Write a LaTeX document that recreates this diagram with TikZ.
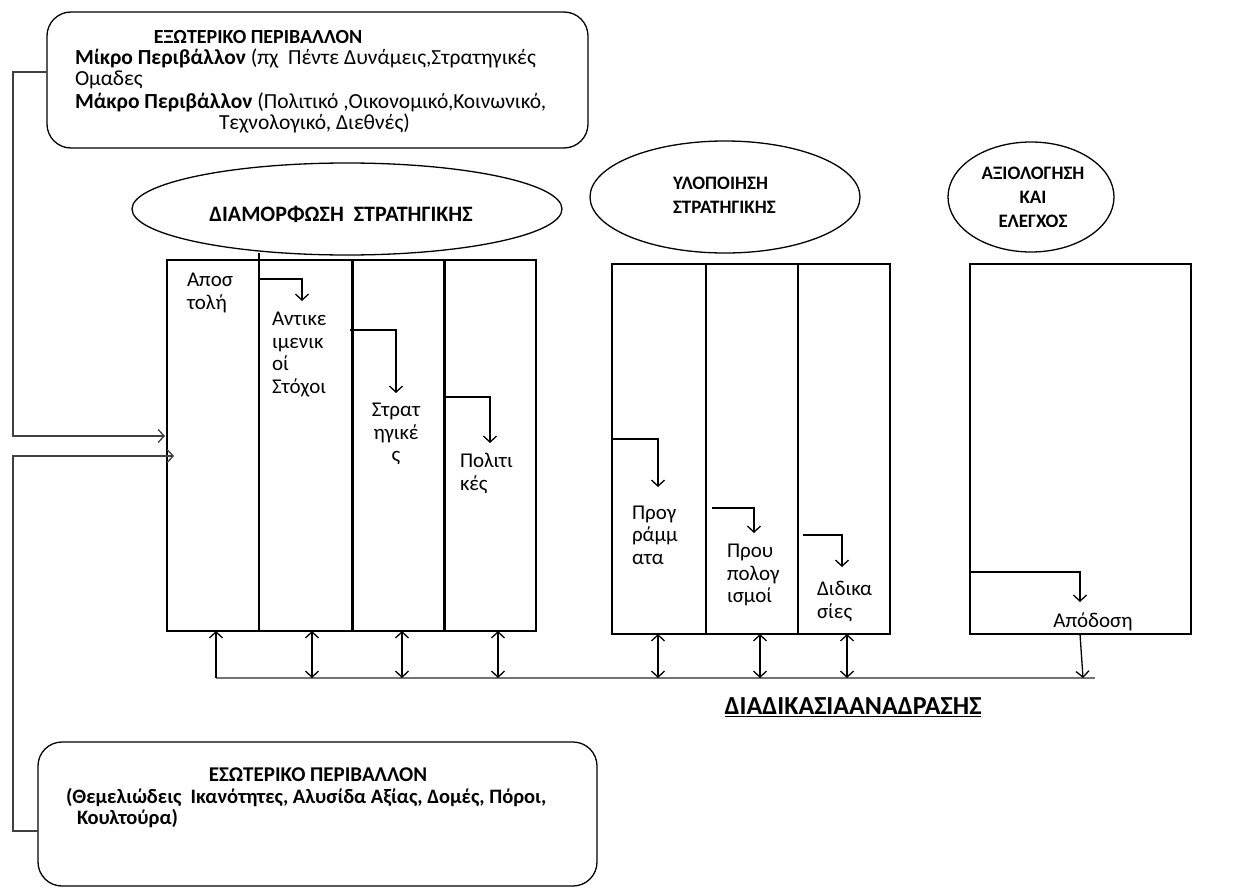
\documentclass[tikz,border=0pt]{standalone}
\usepackage{fontspec}
\setmainfont{Carlito}
\usetikzlibrary{shapes.geometric,arrows.meta}
\begin{document}
\begin{tikzpicture}[x=1pt,y=-1pt,
  every node/.style={inner sep=0pt,outer sep=0pt},
  ln/.style={line width=1.3pt,draw=black},
  thickdiv/.style={line width=3pt,draw=black},
  arr/.style={ln,-{Straight Barb[length=6pt,width=13pt,line width=1.3pt]}},
  darr/.style={ln,{Straight Barb[length=6pt,width=13pt,line width=1.3pt]}-{Straight Barb[length=6pt,width=13pt,line width=1.3pt]}},
  conn/.style={line width=1.8pt,draw=black!75,-{Straight Barb[length=6pt,width=13pt,line width=1.3pt]}},
  fbline/.style={line width=2pt,draw=black!55},
  rbox/.style={draw,line width=1.3pt,rounded corners=24pt,rectangle},
  ell/.style={draw,line width=1.3pt,ellipse},
  colbox/.style={draw,line width=1.3pt,rectangle},
  body/.style={font=\fontsize{21}{22.5}\selectfont,align=left,anchor=west},
  boxtxt/.style={font=\fontsize{21.5}{22}\selectfont,anchor=west},
  ttl/.style={font=\bfseries\fontsize{19}{24}\selectfont},
]
\useasboundingbox (0,0) rectangle (1236,888);
\fill[white] (0,0) rectangle (1236,888);

% external environment box
\node[rbox,minimum width=541pt,minimum height=136pt] (ext) at (317.5,80) {};
\node[ttl,font=\bfseries\fontsize{20}{24}\selectfont] (extT) at (258,37) {ΕΞΩΤΕΡΙΚΟ ΠΕΡΙΒΑΛΛΟΝ};
\node[boxtxt] (extL1) at (75,58) {\textbf{Μίκρο Περιβάλλον} (πχ\ \ Πέντε Δυνάμεις,Στρατηγικές};
\node[boxtxt] (extL2) at (75,80) {Ομαδες};
\node[boxtxt] (extL3) at (75,102) {\textbf{Μάκρο Περιβάλλον} (Πολιτικό ,Οικονομικό,Κοινωνικό,};
\node[boxtxt] (extL4) at (219,123) {Τεχνολογικό, Διεθνές)};

% internal environment box
\node[rbox,minimum width=559pt,minimum height=144pt] (int) at (317.5,814) {};
\node[ttl,font=\bfseries\fontsize{21}{24}\selectfont] (intT) at (318,775) {ΕΣΩΤΕΡΙΚΟ ΠΕΡΙΒΑΛΛΟΝ};
\node[boxtxt,font=\bfseries\fontsize{20.5}{22}\selectfont] (intL1) at (66,797) {(Θεμελιώδεις\ \ Ικανότητες, Αλυσίδα Αξίας, Δομές, Πόροι,};
\node[boxtxt,font=\bfseries\fontsize{20.5}{22}\selectfont] (intL2) at (77,818) {Κουλτούρα)};

% ellipses
\node[ell,minimum width=430pt,minimum height=92pt] (e1) at (347,209) {};
\node[ttl,font=\bfseries\fontsize{22}{24}\selectfont] (e1T) at (341,214) {ΔΙΑΜΟΡΦΩΣΗ\ \ ΣΤΡΑΤΗΓΙΚΗΣ};
\node[ell,minimum width=270pt,minimum height=112pt] (e2) at (725,197) {};
\node[ttl,align=left,anchor=west] (e2T) at (673,195) {ΥΛΟΠΟΙΗΣΗ\\ΣΤΡΑΤΗΓΙΚΗΣ};
\node[ell,minimum width=166pt,minimum height=110pt] (e3) at (1031,197) {};
\node[ttl,align=center] (e3T) at (1033,197) {ΑΞΙΟΛΟΓΗΣΗ\\ΚΑΙ\\ΕΛΕΓΧΟΣ};

% column boxes
\node[colbox,minimum width=369pt,minimum height=371pt] (g1) at (351.5,445.5) {};
\draw[ln] (259,253) -- (259,631);
\draw[thickdiv] (352,260) -- (352,631);
\draw[thickdiv] (444,260) -- (444,631);
\node[colbox,minimum width=278pt,minimum height=370pt] (g2) at (751,449) {};
\draw[ln] (706,264) -- (706,634);
\draw[ln] (798,264) -- (798,634);
\node[colbox,minimum width=221pt,minimum height=370pt] (g3) at (1080.5,449) {};

% column labels
\node[body] (t1) at (187,293) {Αποσ\\τολή};
\node[body] (t2) at (272,354.5) {Αντικε\\ιμενικ\\οί\\Στόχοι};
\node[body,align=center,anchor=center] (t3) at (396,434) {Στρατ\\ηγικέ\\ς};
\node[body] (t4) at (460,473.5) {Πολιτι\\κές};
\node[body] (t5) at (632,535) {Προγ\\ράμμ\\ατα};
\node[body] (t6) at (727,575) {Πρου\\πολογ\\ισμοί};
\node[body] (t7) at (817,601.5) {Διδικα\\σίες};
\node[body,anchor=center] (t8) at (1093,622) {Απόδοση};

% inner step arrows
\coordinate (s1) at (260,279);  \coordinate (s1e) at (302,301);
\coordinate (s2) at (350,330);  \coordinate (s2e) at (396,393);
\coordinate (s3) at (445,397);  \coordinate (s3e) at (490,443);
\coordinate (s4) at (612,439);  \coordinate (s4e) at (658,487);
\coordinate (s5) at (712,508);  \coordinate (s5e) at (754,533);
\coordinate (s6) at (803,535);  \coordinate (s6e) at (842,567);
\coordinate (s7) at (970,572);  \coordinate (s7e) at (1080,602);
\foreach \a in {1,...,7}{\draw[arr] (s\a) -| (s\a e);}

% feedback line
\coordinate (fbL) at (216,678);
\coordinate (fbR) at (1095,678);
\draw[fbline] (fbL) -- (fbR);
\node[font=\bfseries\fontsize{26}{28}\selectfont] (fbT) at (853,707) {\underline{ΔΙΑΔΙΚΑΣΙΑΑΝΑΔΡΑΣΗΣ}};

\draw[arr] (fbL) -- (216,631);
\foreach \x in {312,402,498}{\draw[darr] (\x,678) -- (\x,631);}
\foreach \x in {658,760,847}{\draw[darr] (\x,678) -- (\x,634);}
\coordinate (apo) at (1080,634);
\coordinate (apoE) at (1083,678);
\draw[arr] (apo) -- (apoE);

% environment connectors
\coordinate (x1) at (47,72);  \coordinate (x1e) at (165,436);
\coordinate (x2) at (38,831); \coordinate (x2e) at (174,456);
\draw[conn] (x1) -- (13,72) |- (x1e);
\draw[conn] (x2) -- (13,831) |- (x2e);
\end{tikzpicture}
\end{document}
